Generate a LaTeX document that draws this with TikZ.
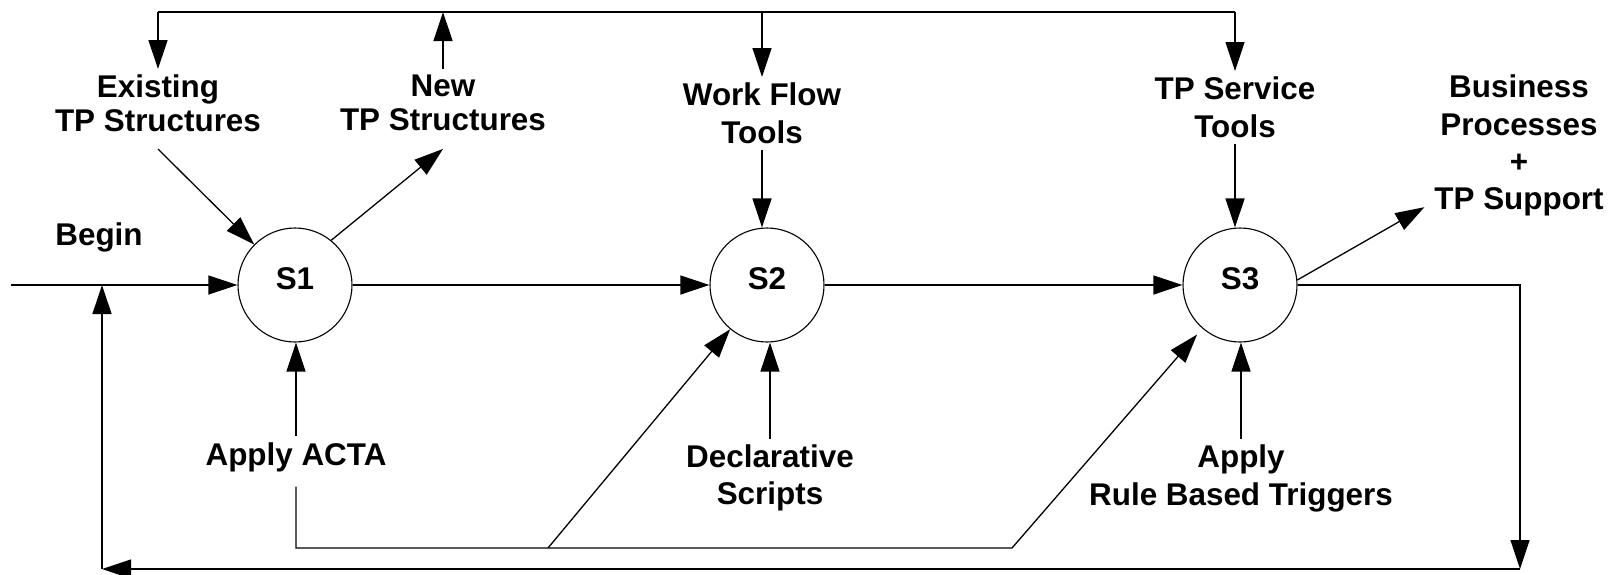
\documentclass[tikz,border=0pt]{standalone}
\usepackage{fontspec}
\setmainfont{Liberation Sans}
\usetikzlibrary{arrows.meta}
\begin{document}
\begin{tikzpicture}[x=0.5pt,y=-0.5pt,
  line width=0.65pt,
  arr/.style={-{Triangle[length=14.5pt,width=9.5pt]}},
  lbl/.style={inner sep=0pt, outer sep=3pt, align=center, anchor=north,
    font=\fontsize{15.7}{#1}\selectfont\bfseries},
  lbl/.default=18.75,
  one/.style={inner sep=0pt, outer sep=3pt, anchor=base,
    font=\fontsize{15.7}{18}\selectfont\bfseries},
  stnode/.style={circle, draw, line width=0.55pt, minimum size=57pt,
    inner sep=0pt, text depth=6pt, font=\fontsize{15.7}{18}\selectfont\bfseries}]
\useasboundingbox (0,0) rectangle (1617,574);

% states
\node[stnode] (s1) at (295,285) {S1};
\node[stnode] (s2) at (767,285) {S2};
\node[stnode] (s3) at (1240,285) {S3};

% labels
\node[lbl=17] (exist) at (158,69) {Existing\\TP Structures};
\node[lbl=17] (new) at (443,69) {New\\TP Structures};
\node[lbl] (wft) at (762,77) {Work Flow\\Tools};
\node[lbl] (tpst) at (1235,71) {TP Service\\Tools};
\node[lbl=18.65] (bus) at (1519,69) {Business\\Processes\\+\\TP Support};
\node[one] (begin) at (99,245) {Begin};
\node[one] (acta) at (296,465) {Apply ACTA};
\node[lbl=18.5] (decl) at (770,439) {Declarative\\Scripts};
\node[lbl=19] (rule) at (1241,439) {Apply\\Rule Based Triggers};

% helper points
\coordinate (top) at (0,12);
\coordinate (in) at (11,285);
\coordinate (rc) at (1520,569);
\coordinate (lc) at (102,569);
\coordinate (k1) at (548,548);
\coordinate (k2) at (1012,548);

% distribution line along the top
\draw (exist.north |- top) -- (tpst.north |- top);
\draw[arr] (exist.north |- top) -- (exist.north);
\draw[arr] (new.north) -- (new.north |- top);
\draw[arr] (wft.north |- top) -- (wft.north);
\draw[arr] (tpst.north |- top) -- (tpst.north);

% inputs and outputs of the states
\draw[arr] ([yshift=-5.5pt]exist.south) -- (s1);
\draw[arr] (s1.51) -- ([yshift=-6pt]new.south);
\draw[arr] (wft.south) -- (wft.south |- s2.north);
\draw[arr] (tpst.south) -- (tpst.south |- s3.north);
\draw[arr] (s3.5) -- ([xshift=-2pt,yshift=7.5pt]bus.south west);
\draw[arr] (acta.north) -- (acta.north |- s1.south);
\draw[arr] (decl.north) -- (decl.north |- s2.south);
\draw[arr] (rule.north) -- (rule.north |- s3.south);

% main flow
\draw[arr] (in) -- (s1);
\draw[arr] (s1) -- (s2);
\draw[arr] (s2) -- (s3);
\draw[arr] (s3.east) -- (s3.east -| rc) -- (rc);
\draw[arr] (rc) -- (lc);
\draw[arr] (lc) -- (lc |- in);

% ACTA feedback
\draw[arr, shorten >=4pt] ([yshift=-4.5pt]acta.south) -- (acta.south |- k2) -- (k2) -- (s3);
\draw[arr] (k1) -- (s2);
\end{tikzpicture}
\end{document}
